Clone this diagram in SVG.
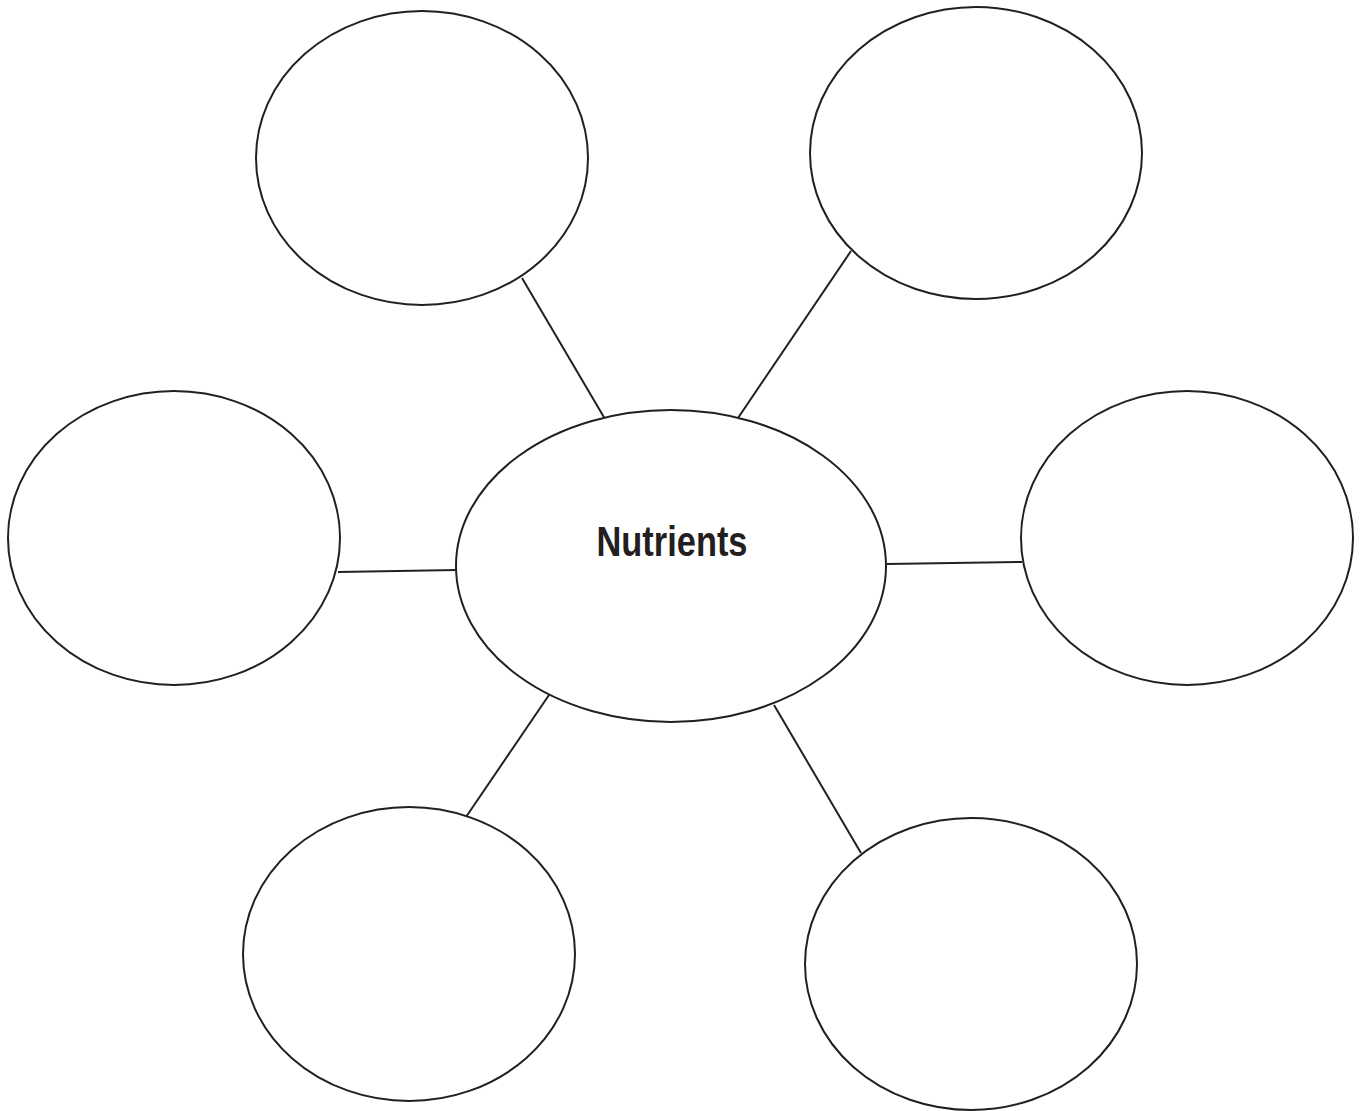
<svg xmlns="http://www.w3.org/2000/svg" width="1361" height="1111" viewBox="0 0 1361 1111">
<style>
.n{fill:#fff;stroke:#231f20;stroke-width:2}
.c line{stroke:#231f20;stroke-width:2}
.t{font-family:"Liberation Sans",Arial,sans-serif;font-weight:bold;font-size:43px;fill:#231f20}
</style>
<rect width="1361" height="1111" fill="#fff"/>
<g class="c" id="connectors">
<line x1="522" y1="278" x2="605" y2="419"/>
<line x1="851" y1="251" x2="738" y2="418"/>
<line x1="338" y1="572" x2="457" y2="570"/>
<line x1="887" y1="564" x2="1022" y2="562"/>
<line x1="549" y1="695" x2="466" y2="817"/>
<line x1="774" y1="705" x2="861" y2="853"/>
</g>
<g id="center"><ellipse class="n" cx="671" cy="566" rx="215" ry="156"/>
<text class="t" x="672" y="556" text-anchor="middle" textLength="151" lengthAdjust="spacingAndGlyphs">Nutrients</text></g>
<g id="topleft"><ellipse class="n" cx="422" cy="158" rx="166" ry="147"/></g>
<g id="topright"><ellipse class="n" cx="976" cy="153" rx="166" ry="146"/></g>
<g id="left"><ellipse class="n" cx="174" cy="538" rx="166" ry="147"/></g>
<g id="right"><ellipse class="n" cx="1187" cy="538" rx="166" ry="147"/></g>
<g id="bottomleft"><ellipse class="n" cx="409" cy="954" rx="166" ry="147"/></g>
<g id="bottomright"><ellipse class="n" cx="971" cy="964" rx="166" ry="146"/></g>
</svg>
